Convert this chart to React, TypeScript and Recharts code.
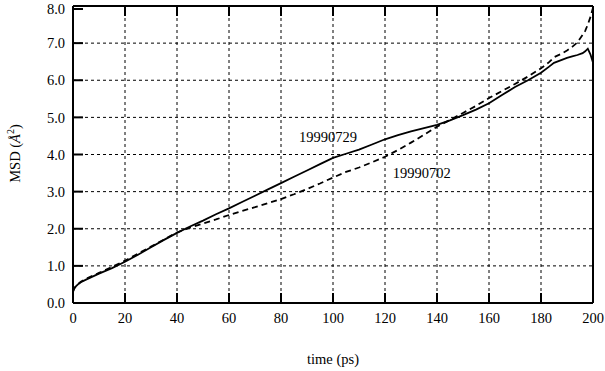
import React from 'react';
import { LineChart, Line, XAxis, YAxis, CartesianGrid, ReferenceDot } from 'recharts';

const times = [0, 0.5, 1, 2, 3, 5, 7.5, 10, 15, 20, 25, 30, 35, 40, 45, 50, 55, 60, 65, 70, 75, 80, 85, 90, 95, 100, 105, 110, 115, 120, 125, 130, 135, 140, 145, 150, 155, 160, 165, 170, 175, 180, 183, 185, 188, 190, 192, 194, 196, 197, 198, 199, 200];
const run0729 = [0.32, 0.40, 0.44, 0.51, 0.56, 0.63, 0.71, 0.79, 0.94, 1.11, 1.30, 1.50, 1.70, 1.89, 2.06, 2.22, 2.39, 2.55, 2.72, 2.89, 3.06, 3.23, 3.40, 3.57, 3.74, 3.91, 4.02, 4.13, 4.27, 4.41, 4.52, 4.62, 4.71, 4.80, 4.92, 5.06, 5.21, 5.38, 5.60, 5.82, 6.00, 6.20, 6.36, 6.47, 6.55, 6.60, 6.64, 6.68, 6.73, 6.78, 6.85, 6.70, 6.48];
const run0702 = [0.30, 0.39, 0.44, 0.51, 0.57, 0.65, 0.73, 0.81, 0.97, 1.14, 1.33, 1.52, 1.71, 1.90, 2.03, 2.14, 2.25, 2.37, 2.48, 2.58, 2.69, 2.80, 2.93, 3.07, 3.22, 3.38, 3.53, 3.65, 3.79, 3.94, 4.12, 4.32, 4.53, 4.75, 4.93, 5.12, 5.31, 5.52, 5.71, 5.90, 6.10, 6.32, 6.48, 6.62, 6.72, 6.80, 6.90, 7.02, 7.22, 7.33, 7.50, 7.70, 7.95];

const xTicks = [0, 20, 40, 60, 80, 100, 120, 140, 160, 180, 200];
const yTicks = [0, 1, 2, 3, 4, 5, 6, 7, 8];

const labelNames = ['19990729', '19990702'];
const labelTimes = [98.1, 134.1];
const labelValues = [4.47, 3.5];

const data = times.map((t, i) => ({ t, a: run0729[i], b: run0702[i] }));

const FONT = 'Liberation Serif, Times New Roman, serif';
const FS = 14.5;

const BottomTick = (p: any) => (
  <g>
    <line x1={p.x} x2={p.x} y1={p.y} y2={p.y - 10} stroke="#000" strokeWidth={2} />
    <text x={p.x} y={p.y + 10} dy="0.71em" textAnchor="middle" fontFamily={FONT} fontSize={FS} fill="#000">
      {p.payload.value}
    </text>
  </g>
);
const TopTick = (p: any) => (
  <line x1={p.x} x2={p.x} y1={p.y} y2={p.y + 10} stroke="#000" strokeWidth={2} />
);
const LeftTick = (p: any) => (
  <g>
    <line x1={p.x} x2={p.x + 10} y1={p.y} y2={p.y} stroke="#000" strokeWidth={2} />
    <text x={p.x - 8} y={p.y} dy="0.355em" textAnchor="end" fontFamily={FONT} fontSize={FS} fill="#000">
      {Number(p.payload.value).toFixed(1)}
    </text>
  </g>
);
const RightTick = (p: any) => (
  <line x1={p.x} x2={p.x - 10} y1={p.y} y2={p.y} stroke="#000" strokeWidth={2} />
);

const YLabel = (p: any) => {
  const vb = p.viewBox;
  const cx = vb.x + 15;
  const cy = vb.y + vb.height / 2 - 1;
  return (
    <text x={cx} y={cy} transform={`rotate(-90, ${cx}, ${cy})`} textAnchor="middle" dominantBaseline="central" fontFamily={FONT} fontSize={FS} fill="#000">
      MSD (<tspan fontStyle="italic">Å</tspan><tspan dy="-5" fontSize={10}>2</tspan><tspan dy="5">)</tspan>
    </text>
  );
};
const XLabel = (p: any) => {
  const vb = p.viewBox;
  return (
    <text x={vb.x + vb.width / 2} y={vb.y + 61} textAnchor="middle" fontFamily={FONT} fontSize={FS} fill="#000">
      time (ps)
    </text>
  );
};

const Annot = (name: string) => (p: any) => (
  <text x={p.cx} y={p.cy} textAnchor="middle" dominantBaseline="central" fontFamily={FONT} fontSize={FS} fill="#000">
    {name}
  </text>
);

export default function App() {
  return (
    <div style={{ position: 'absolute', left: 0, top: 0, width: 605, height: 371, background: '#fff' }}>
      <LineChart width={605} height={371} data={data} margin={{ top: 5, right: 11, bottom: 0, left: 0 }}>
        <CartesianGrid stroke="#000" strokeWidth={1} strokeDasharray="3 3" />
        <XAxis
          dataKey="t"
          type="number"
          domain={[0, 200]}
          ticks={xTicks}
          height={68}
          tickSize={0}
          tickMargin={0}
          tickLine={false}
          axisLine={{ stroke: '#000', strokeWidth: 2 }}
          tick={<BottomTick />}
          label={<XLabel />}
        />
        <XAxis
          xAxisId="top"
          orientation="top"
          dataKey="t"
          type="number"
          domain={[0, 200]}
          ticks={xTicks}
          height={1}
          tickSize={0}
          tickMargin={0}
          tickLine={false}
          axisLine={{ stroke: '#000', strokeWidth: 2 }}
          tick={<TopTick />}
        />
        <YAxis
          type="number"
          domain={[0, 8]}
          ticks={yTicks}
          width={73}
          tickSize={0}
          tickMargin={0}
          tickLine={false}
          axisLine={{ stroke: '#000', strokeWidth: 2 }}
          tick={<LeftTick />}
          label={<YLabel />}
        />
        <YAxis
          yAxisId="right"
          orientation="right"
          type="number"
          domain={[0, 8]}
          ticks={yTicks}
          width={1}
          tickSize={0}
          tickMargin={0}
          tickLine={false}
          axisLine={{ stroke: '#000', strokeWidth: 2 }}
          tick={<RightTick />}
        />
        <Line type="linear" dataKey="a" stroke="#000" strokeWidth={1.8} dot={false} isAnimationActive={false} />
        <Line type="linear" dataKey="b" stroke="#000" strokeWidth={1.8} strokeDasharray="6 4" dot={false} isAnimationActive={false} />
        {labelNames.map((n, i) => (
          <ReferenceDot key={n} x={labelTimes[i]} y={labelValues[i]} r={0} fill="none" stroke="none" shape={Annot(n)} />
        ))}
      </LineChart>
    </div>
  );
}
